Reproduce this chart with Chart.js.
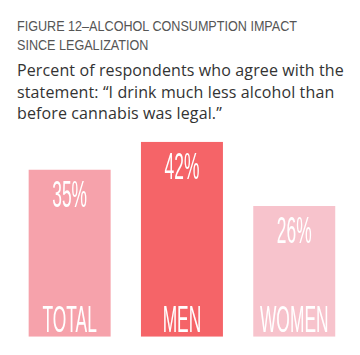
<!DOCTYPE html>
<html>
<head>
<meta charset="utf-8">
<script src="https://cdn.jsdelivr.net/npm/chart.js@4"></script>
<style>
  html, body { margin:0; padding:0; background:#ffffff; }
  body { width:360px; height:355px; position:relative; overflow:hidden; }
  #t1, #t2 { position:absolute; left:17px; white-space:nowrap; font-family:"Liberation Sans",sans-serif; font-size:14px; color:#555555; transform-origin:0 0; transform:scaleX(0.9); line-height:14px; }
  #t1 { top:18.5px; }
  #t2 { top:38px; }
  .sub { position:absolute; left:17px; white-space:nowrap; font-family:"Open Sans","Liberation Sans",sans-serif; font-weight:500; font-size:16px; letter-spacing:0.12px; color:#333333; line-height:16px; }
  #wrap { position:absolute; left:0; top:130px; width:360px; height:225px; }
</style>
</head>
<body>
<div id="t1">FIGURE 12–ALCOHOL CONSUMPTION IMPACT</div>
<div id="t2">SINCE LEGALIZATION</div>
<div class="sub" style="top:62px">Percent of respondents who agree with the</div>
<div class="sub" style="top:83.5px">statement: “I drink much less alcohol than</div>
<div class="sub" style="top:104.5px">before cannabis was legal.”</div>
<div id="wrap"><canvas id="c" width="360" height="225"></canvas></div>
<script>
const categories = ["TOTAL", "MEN", "WOMEN"];
const values = [35, 42, 26];
const valueLabels = ["35%", "42%", "26%"];
const barColors = ["#f6a2ab", "#f56468", "#f7c3cc"];
const axisMin = -6.5;
const axisMax = 42;

const labelPlugin = {
  id: "inBarLabels",
  afterDatasetsDraw(chart) {
    const ctx = chart.ctx;
    const meta = chart.getDatasetMeta(0);
    const area = chart.chartArea;
    const sx = 0.47;
    ctx.save();
    ctx.fillStyle = "#ffffff";
    ctx.textAlign = "center";
    ctx.textBaseline = "alphabetic";
    ctx.font = '37px "Liberation Sans", sans-serif';
    meta.data.forEach((bar, i) => {
      ctx.save();
      ctx.translate(bar.x, 0);
      ctx.scale(sx, 1);
      ctx.fillText(valueLabels[i], 0, bar.y + 37);
      ctx.fillText(categories[i], 0, area.bottom - 5);
      ctx.restore();
    });
    ctx.restore();
  }
};

new Chart(document.getElementById("c"), {
  type: "bar",
  data: {
    labels: categories,
    datasets: [{
      data: values,
      backgroundColor: barColors,
      borderWidth: 0,
      base: axisMin,
      barPercentage: 0.73,
      categoryPercentage: 1.0
    }]
  },
  options: {
    responsive: false,
    animation: false,
    devicePixelRatio: 1,
    layout: { padding: { left: 13.5, right: 9.6, top: 11.7, bottom: 18.3 } },
    plugins: { legend: { display: false }, tooltip: { enabled: false }, title: { display: false } },
    scales: {
      x: { display: false },
      y: { display: false, min: axisMin, max: axisMax }
    }
  },
  plugins: [labelPlugin]
});
</script>
</body>
</html>
